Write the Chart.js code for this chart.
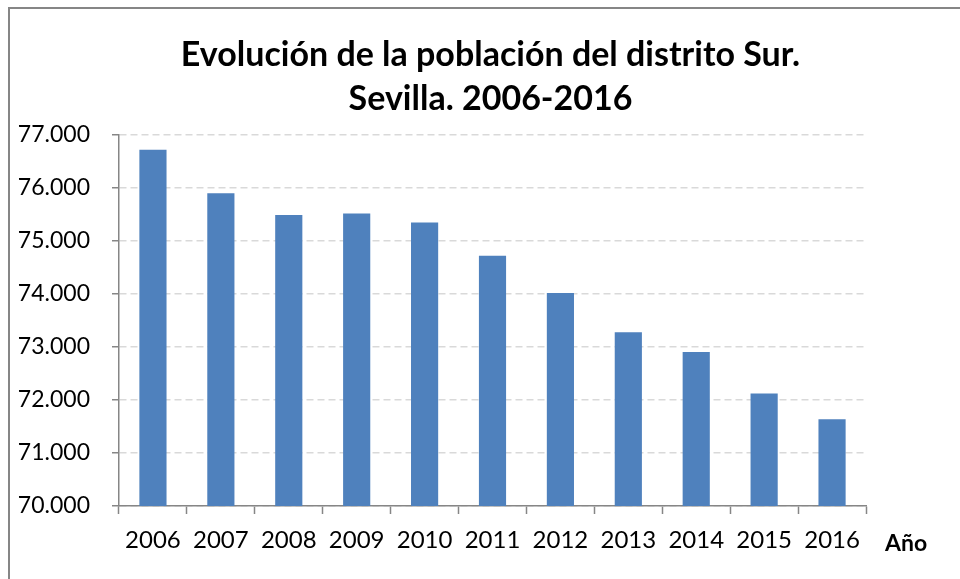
<!DOCTYPE html>
<html>
<head>
<meta charset="utf-8">
<script src="https://cdn.jsdelivr.net/npm/chart.js@4/dist/chart.umd.min.js"></script>
<style>
  html, body { margin: 0; padding: 0; background: #ffffff; }
  #wrap { position: relative; width: 960px; height: 579px; overflow: hidden; }
</style>
</head>
<body>
<div id="wrap"><canvas id="c" width="960" height="579"></canvas></div>
<script>
const titleLines = ["Evolución de la población del distrito Sur.", "Sevilla. 2006-2016"];
const years = ["2006", "2007", "2008", "2009", "2010", "2011", "2012", "2013", "2014", "2015", "2016"];
const population = [76720, 75900, 75490, 75520, 75350, 74720, 74020, 73280, 72905, 72125, 71635];
const axisLabel = "Año";
const yMin = 70000;
const yMax = 77000;
const yStep = 1000;

const FONT = "Lato, 'Open Sans', sans-serif";

const decorPlugin = {
  id: 'decor',
  beforeDraw(chart) {
    const ctx = chart.ctx;
    ctx.save();
    ctx.fillStyle = '#ffffff';
    ctx.fillRect(0, 0, chart.width, chart.height);
    ctx.strokeStyle = '#868686';
    ctx.lineWidth = 2;
    ctx.strokeRect(9, 8, chart.width + 20, chart.height + 20);
    ctx.restore();
  },
  afterDraw(chart) {
    const ctx = chart.ctx;
    const x = chart.scales.x;
    const area = chart.chartArea;
    ctx.save();
    ctx.fillStyle = '#000000';
    // title
    ctx.font = "bold 34px " + FONT;
    ctx.textAlign = 'center';
    ctx.textBaseline = 'alphabetic';
    const cx = (area.left + area.right) / 2 - 2;
    ctx.fillText(titleLines[0], cx, area.top - 69);
    ctx.fillText(titleLines[1], cx, area.top - 25);
    // axis label
    ctx.font = "bold 23px " + FONT;
    ctx.textAlign = 'left';
    ctx.textBaseline = 'middle';
    ctx.fillText(axisLabel, x.right + 19, x.top + 38);
    ctx.restore();
  }
};

new Chart(document.getElementById('c'), {
  type: 'bar',
  data: {
    labels: years,
    datasets: [{
      data: population,
      backgroundColor: '#4F81BD',
      borderWidth: 0,
      barPercentage: 0.4,
      categoryPercentage: 1.0
    }]
  },
  options: {
    responsive: false,
    animation: false,
    devicePixelRatio: 1,
    layout: { padding: { left: 0, right: 94, top: 135, bottom: 0 } },
    plugins: {
      legend: { display: false },
      tooltip: { enabled: false },
      title: { display: false }
    },
    scales: {
      x: {
        grid: {
          display: true,
          offset: true,
          drawOnChartArea: false,
          drawTicks: true,
          tickLength: 8,
          tickColor: '#868686',
          tickWidth: 1.5
        },
        border: { display: true, color: '#868686', width: 1.5 },
        ticks: {
          color: '#000000',
          font: { family: FONT, size: 24 },
          padding: 12,
          maxRotation: 0,
          autoSkip: false
        },
        afterFit(scale) { scale.height = 73; }
      },
      y: {
        min: yMin,
        max: yMax,
        grid: {
          color: '#D9D9D9',
          lineWidth: 1.5,
          drawTicks: true,
          tickLength: 7,
          tickColor: '#868686',
          tickWidth: 1.5,
          tickBorderDash: []
        },
        border: { display: true, color: '#868686', width: 1.5, dash: [7, 4] },
        ticks: {
          stepSize: yStep,
          color: '#000000',
          font: { family: FONT, size: 23 },
          padding: 22,
          callback: (v) => v.toLocaleString('de-DE')
        },
        afterFit(scale) { scale.width = 119; }
      }
    }
  },
  plugins: [decorPlugin]
});
</script>
</body>
</html>
